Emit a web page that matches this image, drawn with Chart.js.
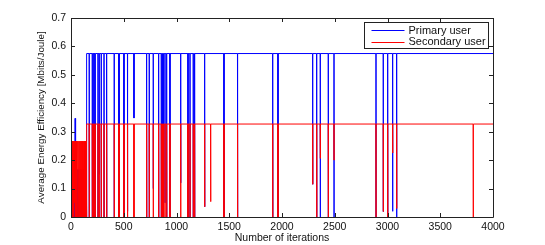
<!DOCTYPE html>
<html>
<head>
<meta charset="utf-8">
<script src="https://cdn.jsdelivr.net/npm/chart.js@4.4.0/dist/chart.umd.min.js"></script>
<style>
  html, body { margin: 0; padding: 0; background: #fff; }
  #wrap { width: 545px; height: 245px; position: relative; }
</style>
</head>
<body>
<div id="wrap"><canvas id="eeChart"></canvas></div>
<script>
// tick labels
var xTicks = [0, 500, 1000, 1500, 2000, 2500, 3000, 3500, 4000];
var yTicks = [0, 0.1, 0.2, 0.3, 0.4, 0.5, 0.6, 0.7];

// first iterations, before both users settle
var earlyIter      = [0, 3, 6, 9, 12, 15, 18, 21, 24, 27, 30, 33, 36, 39, 42, 45, 48, 51, 54, 57, 60, 63, 66, 69, 72, 75, 78, 81, 84, 87, 90, 93, 96, 99, 102, 105, 108, 111, 114, 117, 120, 123, 126, 129, 132, 135, 138, 141, 144, 147];
var earlyPrimary   = [0.10, 0, 0.05, 0, 0.10, 0, 0.02, 0.08, 0, 0.05, 0, 0.10, 0, 0.347, 0, 0.06, 0, 0.03, 0.10, 0, 0.05, 0, 0.167, 0, 0.04, 0.167, 0, 0.09, 0, 0.167, 0.02, 0, 0.07, 0.167, 0, 0.03, 0.167, 0, 0.10, 0, 0.167, 0.05, 0, 0.167, 0, 0.08, 0.167, 0, 0.167, 0];
var earlySecondary = [0.267, 0, 0.267, 0.02, 0.267, 0, 0.267, 0, 0.267, 0, 0.267, 0.05, 0.267, 0, 0.267, 0, 0.267, 0, 0.267, 0, 0.267, 0, 0.267, 0.167, 0, 0.267, 0.167, 0, 0.267, 0.167, 0, 0.267, 0, 0.167, 0.267, 0, 0.167, 0.267, 0, 0.167, 0.267, 0, 0.267, 0.167, 0, 0.267, 0.167, 0, 0.267, 0];

// settled levels
var primaryLevel = 0.575;
var secondaryLevel = 0.327;

// single-iteration drops after settling (null = no drop for that user)
var dropIter      = [173, 202, 218, 230, 256, 268, 287, 313, 338, 410, 452, 458, 502, 536, 597, 717, 742, 780, 831, 856, 867, 877, 891, 907, 938, 1040, 1109, 1128, 1159, 1172, 1267, 1324, 1450, 1579, 1912, 1962, 2291, 2329, 2363, 2439, 2493, 2891, 2960, 3002, 3049, 3087, 3813];
var primaryDrop   = [0, 0, 0, 0, 0, 0.15, 0, 0, 0, 0, 0, 0, 0, 0.02, 0.348, 0, 0, 0.1, 0, 0, 0, 0, 0.05, 0, 0, 0.12, 0, 0, 0, 0, 0.036, null, 0, 0, 0, 0, 0.115, 0, 0, 0, 0, 0, 0.019, 0, 0.02, 0, null];
var secondaryDrop = [0, 0, 0, 0, 0, 0, 0, 0, 0, 0, 0, 0, 0, 0, 0, 0, 0, 0, 0, 0, 0, 0, 0, 0, 0, 0, 0, 0, 0, 0, 0.036, 0.054, 0, 0, 0, 0, 0.115, 0, 0.206, 0, 0.2, 0, 0.019, 0, 0.225, 0.03, 0];

var seriesNames = ['Primary user', 'Secondary user'];
var seriesColors = ['rgb(0,0,255)', 'rgb(255,0,0)'];

function buildSeries(early, level, drops){
    var pts = [];
    for (var i = 0; i < earlyIter.length; i++) {
        pts.push({x: earlyIter[i], y: early[i]});
    }
    pts.push({x: 149, y: level});
    for (var j = 0; j < dropIter.length; j++) {
        if (drops[j] === null) continue;
        pts.push({x: dropIter[j] - 1, y: level});
        pts.push({x: dropIter[j], y: drops[j]});
        pts.push({x: dropIter[j] + 1, y: level});
    }
    pts.push({x: 4000, y: level});
    return pts;
}

// MATLAB style box, inward ticks and legend
var matlabFrame = {
    id: 'matlabFrame',
    afterDraw: function(chart){
        var ctx = chart.ctx;
        var a = chart.chartArea;
        var xs = chart.scales.x, ys = chart.scales.y;
        ctx.save();
        ctx.strokeStyle = '#222';
        ctx.lineWidth = 1;
        ctx.beginPath();
        ctx.rect(Math.round(a.left) + 0.5, Math.round(a.top) + 0.5, Math.round(a.right - a.left), Math.round(a.bottom - a.top));
        ctx.stroke();
        ctx.beginPath();
        xTicks.forEach(function(v){
            var px = Math.round(xs.getPixelForValue(v)) + 0.5;
            ctx.moveTo(px, a.bottom); ctx.lineTo(px, a.bottom - 4);
            ctx.moveTo(px, a.top); ctx.lineTo(px, a.top + 4);
        });
        yTicks.forEach(function(v){
            var py = Math.round(ys.getPixelForValue(v)) + 0.5;
            ctx.moveTo(a.left, py); ctx.lineTo(a.left + 4, py);
            ctx.moveTo(a.right, py); ctx.lineTo(a.right - 4, py);
        });
        ctx.stroke();

        // legend
        var lx = 364.5, ly = 22.5, lw = 124, lh = 26;
        ctx.fillStyle = '#fff';
        ctx.fillRect(lx, ly, lw, lh);
        ctx.strokeStyle = '#222';
        ctx.strokeRect(lx, ly, lw, lh);
        ctx.font = '11px "Liberation Sans", Arial, sans-serif';
        ctx.textBaseline = 'middle';
        for (var i = 0; i < seriesNames.length; i++) {
            var yy = ly + 7.5 + i * 11.5;
            ctx.strokeStyle = seriesColors[i];
            ctx.beginPath();
            ctx.moveTo(lx + 7, Math.round(yy) + 0.5);
            ctx.lineTo(lx + 40, Math.round(yy) + 0.5);
            ctx.stroke();
            ctx.fillStyle = '#111';
            ctx.fillText(seriesNames[i], lx + 44, yy + 0.5);
        }
        ctx.restore();
    }
};

var ctx = document.getElementById('eeChart').getContext('2d');
var eeChart = new Chart(ctx, {
    type: 'line',
    data: {
        datasets: [{
            label: seriesNames[0],
            data: buildSeries(earlyPrimary, primaryLevel, primaryDrop),
            borderColor: seriesColors[0],
            borderWidth: 1,
            pointRadius: 0,
            tension: 0,
            order: 2
        }, {
            label: seriesNames[1],
            data: buildSeries(earlySecondary, secondaryLevel, secondaryDrop),
            borderColor: seriesColors[1],
            borderWidth: 1,
            pointRadius: 0,
            tension: 0,
            order: 1
        }]
    },
    options: {
        responsive: true,
        maintainAspectRatio: false,
        animation: false,
        parsing: false,
        normalized: true,
        layout: { padding: { left: 0, right: 52, top: 18, bottom: 0 } },
        plugins: {
            legend: { display: false },
            tooltip: { enabled: false }
        },
        scales: {
            x: {
                type: 'linear',
                min: 0, max: 4000,
                afterFit: function(s){ s.height = 28; },
                afterBuildTicks: function(s){ s.ticks = xTicks.map(function(v){ return {value: v}; }); },
                grid: { display: false, drawTicks: false },
                border: { display: false },
                ticks: {
                    padding: 4,
                    color: '#111',
                    font: { family: '"Liberation Sans", Arial, sans-serif', size: 10.5 },
                    maxRotation: 0,
                    callback: function(v){ return String(v); }
                },
                title: {
                    display: true,
                    text: 'Number of iterations',
                    color: '#111',
                    padding: { top: 0, bottom: 1 },
                    font: { family: '"Liberation Sans", Arial, sans-serif', size: 10.5 }
                }
            },
            y: {
                type: 'linear',
                min: 0, max: 0.7,
                afterFit: function(s){ s.width = 71; },
                afterBuildTicks: function(s){ s.ticks = yTicks.map(function(v){ return {value: v}; }); },
                grid: { display: false, drawTicks: false },
                border: { display: false },
                ticks: {
                    padding: 5,
                    color: '#111',
                    font: { family: '"Liberation Sans", Arial, sans-serif', size: 10.5 },
                    callback: function(v){ return String(Math.round(v * 10) / 10); }
                },
                title: {
                    display: true,
                    text: 'Average Energy Efficiency [Mbits/Joule]',
                    color: '#111',
                    padding: { top: 35, bottom: 0 },
                    font: { family: '"Liberation Sans", Arial, sans-serif', size: 9.8 }
                }
            }
        }
    },
    plugins: [matlabFrame]
});
</script>
</body>
</html>
